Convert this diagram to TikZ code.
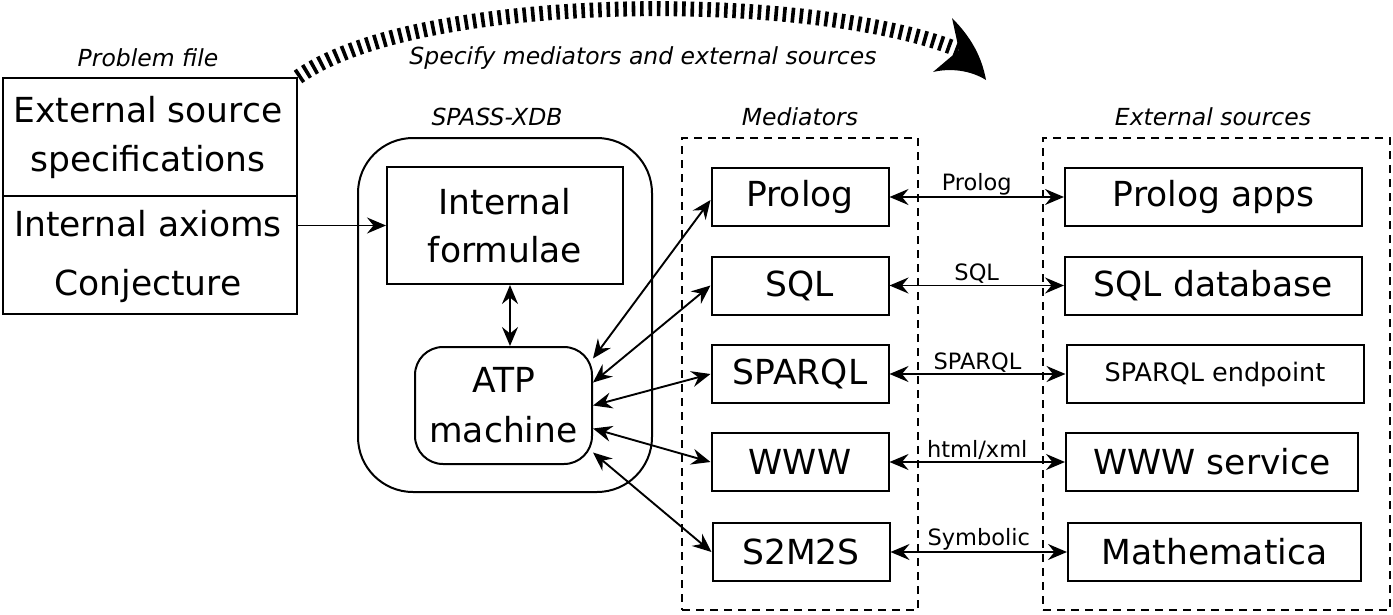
\documentclass[tikz,border=0pt]{standalone}
\usepackage{fontspec}
\setmainfont{DejaVu Sans}
\usetikzlibrary{arrows.meta}
\begin{document}
\begin{tikzpicture}[x=1pt,y=-1pt,
  box/.style={draw, line width=2pt, inner sep=0pt},
  dbox/.style={draw, line width=1.7pt, dash pattern=on 8pt off 6pt, inner sep=0pt},
  big/.style={font=\fontsize{34.5}{40}\selectfont},
  mid/.style={font=\fontsize{25.5}{30}\selectfont},
  lab/.style={font=\itshape\fontsize{23.5}{26}\selectfont},
  clab/.style={font=\fontsize{22.5}{24}\selectfont, inner sep=1pt},
  tipA/.tip={Stealth[length=19pt,width=16pt,inset=6.5pt]},
  twoway/.style={tipA-tipA, line width=1.9pt},
  oneway/.style={-tipA, line width=1.9pt}]
\useasboundingbox (0,0) rectangle (1393,614);
% problem file
\node[box, minimum width=294, minimum height=236] (pf) at (150,196) {};
\draw[line width=2pt] (pf.west |- 0,196) -- (pf.east |- 0,196);
\node[align=center, font=\fontsize{34.5}{49}\selectfont] (pft) at (148,137) {External source\\specifications};
\node[align=center, font=\fontsize{34.5}{59}\selectfont] (pfb) at (148,256) {Internal axioms\\Conjecture};
\node[lab] (pfl) at (148,58) {Problem file};
% SPASS-XDB
\node[box, rounded corners=55, minimum width=294, minimum height=354] (spass) at (505,315) {};
\node[lab] (spl) at (497,117) {SPASS-XDB};
\node[box, minimum width=236, minimum height=117, align=center, font=\fontsize{34.5}{48}\selectfont] (intf) at (505,225.5) {Internal\\formulae};
\node[box, rounded corners=28, minimum width=177, minimum height=117, align=center, font=\fontsize{34.5}{50}\selectfont] (atp) at (503.5,405.5) {ATP\\machine};
% mediators
\node[dbox, minimum width=236, minimum height=472] (med) at (800,374) {};
\node[lab] (medl) at (800,117) {Mediators};
\node[box, big, minimum width=177, minimum height=58] (m1) at (800,197) {Prolog};
\node[box, big, minimum width=177, minimum height=58] (m2) at (800,285.5) {SQL};
\node[box, big, minimum width=177, minimum height=58] (m3) at (800,374) {SPARQL};
\node[box, big, minimum width=177, minimum height=58] (m4) at (800,462) {WWW};
\node[box, big, minimum width=177, minimum height=58] (m5) at (801,552) {S2M2S};
% external
\node[dbox, minimum width=347, minimum height=472] (ext) at (1216.5,374) {};
\node[lab] (extl) at (1213,117) {External sources};
\node[box, big, minimum width=297, minimum height=58] (e1) at (1213.5,197) {Prolog apps};
\node[box, big, minimum width=297, minimum height=58] (e2) at (1213.5,285.5) {SQL database};
\node[box, mid, minimum width=297, minimum height=58] (e3) at (1215,374) {SPARQL endpoint};
\node[box, big, minimum width=292, minimum height=58] (e4) at (1212,462) {WWW service};
\node[box, big, minimum width=293, minimum height=58] (e5) at (1214.5,552) {Mathematica};
% connectors
\draw[oneway] (intf.west -| pf.east) -- (intf.west);
\draw[twoway] ([xshift=5pt]intf.south) -- ([xshift=5pt]intf.south |- atp.north);
\draw[twoway] ([yshift=47pt]atp.east) -- ([yshift=-3pt]m1.west);
\draw[twoway] ([yshift=23pt]atp.east) -- (m2.west);
\draw[twoway] (atp.east) -- (m3.west);
\draw[twoway] ([yshift=-23pt]atp.east) -- (m4.west);
\draw[twoway] ([yshift=-47pt]atp.east) -- (m5.west);
\draw[twoway] (m1.east) -- node[clab, above] {Prolog} (e1.west);
\draw[twoway] (m2.east) -- node[clab, above] {SQL} (e2.west);
\draw[twoway] (m3.east) -- node[clab, above] {SPARQL} (e3.west);
\draw[twoway] (m4.east) -- node[clab, above] {html/xml} (e4.west);
\draw[twoway] (m5.east) -- node[clab, above] {Symbolic} (e5.west);
% top arc
\coordinate (arcend) at (959,50);
\draw[line width=15pt, dash pattern=on 3.6pt off 4.8pt] (pf.north east) .. controls (420,-9) and (815,-9) .. (arcend);
\fill (952,18) .. controls (972,38) and (982,58) .. (986,80) .. controls (970,70) and (950,68) .. (933,72) -- (arcend) -- cycle;
\node[lab] (spec) at (643,58) {Specify mediators and external sources};
\end{tikzpicture}
\end{document}
